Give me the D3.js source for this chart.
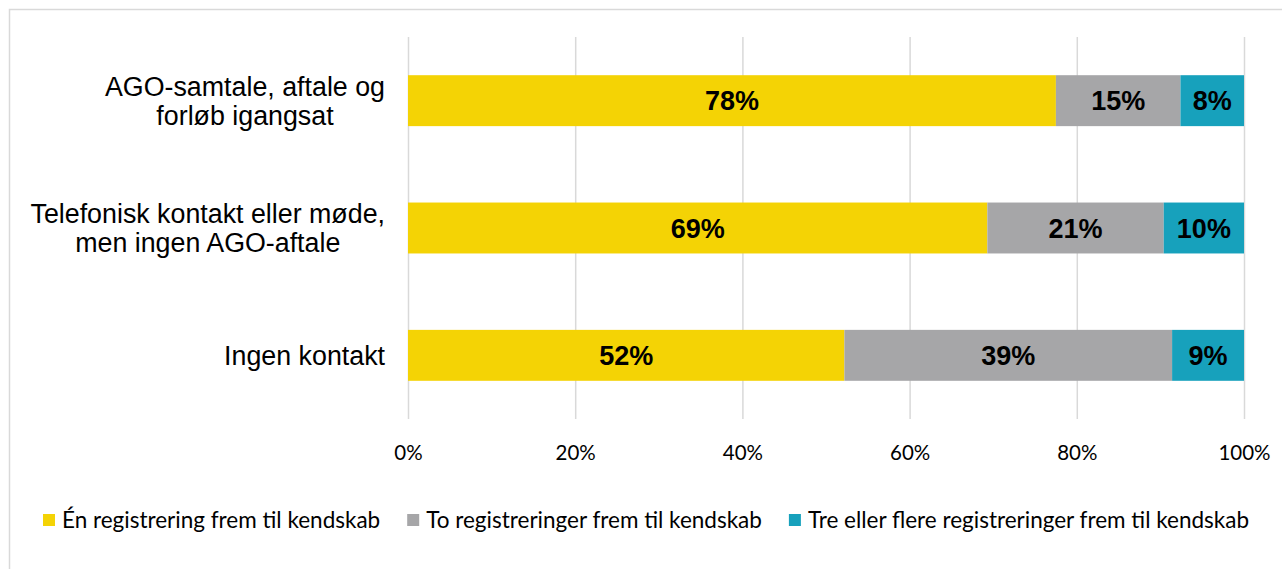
<!DOCTYPE html>
<html>
<head>
<meta charset="utf-8">
<script src="https://cdn.jsdelivr.net/npm/d3@7"></script>
<style>
  body { margin: 0; background: #fff; }
  svg { display: block; }
</style>
</head>
<body>
<svg id="chart" width="1282" height="569"></svg>
<script>
// data
const categories = [
    ["AGO-samtale, aftale og", "forløb igangsat"],
    ["Telefonisk kontakt eller møde,", "men ingen AGO-aftale"],
    ["Ingen kontakt"]
];
const seriesNames = [
    "Én registrering frem til kendskab",
    "To registreringer frem til kendskab",
    "Tre eller flere registreringer frem til kendskab"
];
const oneReg = [77.5, 69.3, 52.2];
const twoReg = [14.9, 21.1, 39.2];
const threeReg = [7.6, 9.6, 8.6];
const tickValues = [0, 20, 40, 60, 80, 100];
const colors = ["#f4d305", "#a6a6a8", "#17a1bc"];

const width = 1282;
const height = 569;
const margin = { top: 37, right: 38, bottom: 150, left: 408 };

const svg = d3.select("#chart");

// outer frame of the chart area
svg.append("rect")
    .attr("x", 9.5)
    .attr("y", 9.5)
    .attr("width", width)
    .attr("height", height)
    .attr("fill", "none")
    .attr("stroke", "#d9d9d9")
    .attr("stroke-width", 1.5);

const xScale = d3.scaleLinear()
    .domain([0, 100])
    .range([margin.left, width - margin.right]);

const yScale = d3.scaleBand()
    .domain(d3.range(categories.length))
    .range([margin.top, height - margin.bottom])
    .paddingInner(0.6)
    .paddingOuter(0.3);

// grid lines + tick labels
const xAxis = d3.axisBottom(xScale)
    .tickValues(tickValues)
    .tickSize(-(height - margin.bottom - margin.top))
    .tickFormat(d => d + "%");

const gx = svg.append("g")
    .attr("transform", `translate(0, ${height - margin.bottom})`)
    .call(xAxis);
gx.select(".domain").remove();
gx.selectAll(".tick line").attr("stroke", "#d9d9d9").attr("stroke-width", 1.5);
gx.selectAll(".tick text")
    .attr("y", 26)
    .attr("fill", "#000")
    .style("font-family", "Lato, 'Open Sans', sans-serif")
    .style("font-size", "20.5px");

// stack the series
const rows = categories.map((c, i) => ({ i: i, a: oneReg[i], b: twoReg[i], c: threeReg[i] }));
const stack = d3.stack().keys(["a", "b", "c"]);
const series = stack(rows);

const layers = svg.selectAll(".layer")
    .data(series)
    .enter()
    .append("g")
    .attr("class", "layer")
    .attr("fill", (d, k) => colors[k]);

layers.selectAll("rect")
    .data(d => d)
    .enter()
    .append("rect")
    .attr("x", d => xScale(d[0]))
    .attr("y", d => yScale(d.data.i))
    .attr("width", d => xScale(d[1]) - xScale(d[0]))
    .attr("height", yScale.bandwidth());

layers.selectAll("text")
    .data(d => d)
    .enter()
    .append("text")
    .attr("x", d => (xScale(d[0]) + xScale(d[1])) / 2)
    .attr("y", d => yScale(d.data.i) + yScale.bandwidth() / 2)
    .attr("dy", "0.36em")
    .attr("text-anchor", "middle")
    .attr("fill", "#000")
    .style("font-family", "'Liberation Sans', Arial, sans-serif")
    .style("font-weight", "bold")
    .style("font-size", "27px")
    .text(d => Math.round(d[1] - d[0]) + "%");

// category labels: lines centred within a block that is right aligned
const labelRight = 385;
const lineH = 29;
categories.forEach((lines, i) => {
    const g = svg.append("g");
    const cy = yScale(i) + yScale.bandwidth() / 2;
    const texts = lines.map((line, j) => g.append("text")
        .attr("y", cy + (j - (lines.length - 1) / 2) * lineH)
        .attr("dy", "0.36em")
        .attr("text-anchor", "middle")
        .attr("fill", "#000")
        .style("font-family", "'Liberation Sans', Arial, sans-serif")
        .style("font-size", "26.8px")
        .text(line));
    const maxW = d3.max(texts, t => t.node().getComputedTextLength());
    texts.forEach(t => t.attr("x", labelRight - maxW / 2));
});

// legend, laid out left to right
const legend = svg.append("g").attr("transform", "translate(0, 520)");
let lx = 43;
seriesNames.forEach((name, k) => {
    legend.append("rect")
        .attr("x", lx)
        .attr("y", -6)
        .attr("width", 12)
        .attr("height", 12)
        .attr("fill", colors[k]);
    const t = legend.append("text")
        .attr("x", lx + 19)
        .attr("dy", "0.36em")
        .attr("fill", "#000")
        .style("font-family", "Lato, 'Open Sans', sans-serif")
        .style("font-size", "22.5px")
        .text(name);
    lx += 19 + t.node().getComputedTextLength() + 27;
});
</script>
</body>
</html>
